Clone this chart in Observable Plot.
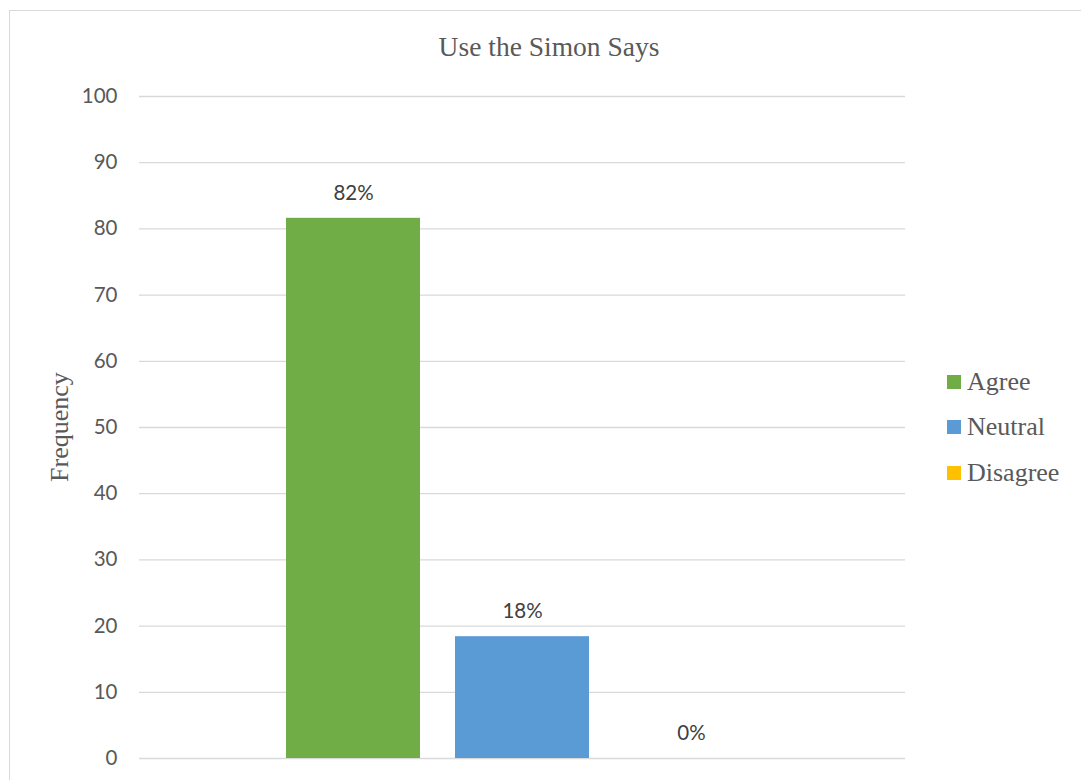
<!DOCTYPE html>
<html>
<head>
<meta charset="utf-8">
<script src="https://cdn.jsdelivr.net/npm/d3@7"></script>
<script src="https://cdn.jsdelivr.net/npm/@observablehq/plot@0.6"></script>
<style>
  html, body { margin: 0; padding: 0; background: #fff; }
  #wrap { position: relative; width: 1081px; height: 780px; overflow: hidden; background: #fff; }
  #frame { position: absolute; left: 9px; top: 10px; width: 1100px; height: 800px; border: 1px solid #d9d9d9; box-sizing: border-box; }
  #chart { position: absolute; left: 0; top: 0; }
  .serif { font-family: "Liberation Serif", "Times New Roman", serif; color: #595959; }
  #title { position: absolute; left: 349px; width: 400px; top: 31px; text-align: center; font-size: 27.5px; line-height: 32px; }
  #ylabel { position: absolute; left: 60px; top: 427px; font-size: 26px; line-height: 28px; transform: translate(-50%, -50%) rotate(-90deg); white-space: nowrap; }
  .leg { position: absolute; left: 947px; display: flex; align-items: center; font-size: 26px; line-height: 30px; }
  .leg span.sw { display: inline-block; width: 14px; height: 14px; margin-right: 6px; }
</style>
</head>
<body>
<div id="wrap">
  <div id="frame"></div>
  <div id="chart"></div>
  <div id="title" class="serif">Use the Simon Says</div>
  <div id="ylabel" class="serif">Frequency</div>
  <div id="legend"></div>
</div>
<script>
const categories = ["Agree", "Neutral", "Disagree"];
const values = [81.6, 18.4, 0];
const labels = ["82%", "18%", "0%"];
const colors = ["#70AD47", "#5B9BD5", "#FFC000"];
const yTicks = [0, 10, 20, 30, 40, 50, 60, 70, 80, 90, 100];

const data = categories.map((c, i) => ({category: c, value: values[i], label: labels[i]}));

const plot = Plot.plot({
  width: 1081,
  height: 780,
  marginLeft: 139,
  marginRight: 176,
  marginTop: 96,
  marginBottom: 22,
  style: {fontFamily: "Lato, 'Open Sans', sans-serif", fontSize: "20px", background: "transparent"},
  x: {domain: categories, paddingInner: 0.2071, paddingOuter: 0.862, axis: null},
  y: {domain: [0, 100], ticks: yTicks},
  color: {domain: categories, range: colors},
  marks: [
    Plot.gridY(yTicks, {stroke: "#d9d9d9", strokeOpacity: 1, strokeWidth: 1.3}),
    Plot.barY(data, {x: "category", y: "value", fill: "category"}),
    Plot.axisY(yTicks, {tickSize: 0, tickPadding: 22, label: null, fill: "#595959", fontSize: 20.5}),
    Plot.text(data, {x: "category", y: "value", text: "label", dy: -25, fill: "#404040", fontSize: 20.5, lineAnchor: "middle"})
  ]
});
document.getElementById("chart").appendChild(plot);

const legend = document.getElementById("legend");
const legendTops = [367, 412, 458];
categories.forEach((c, i) => {
  const item = document.createElement("div");
  item.className = "leg serif";
  item.style.top = legendTops[i] + "px";
  const sw = document.createElement("span");
  sw.className = "sw";
  sw.style.background = colors[i];
  item.appendChild(sw);
  item.appendChild(document.createTextNode(c));
  legend.appendChild(item);
});
</script>
</body>
</html>
